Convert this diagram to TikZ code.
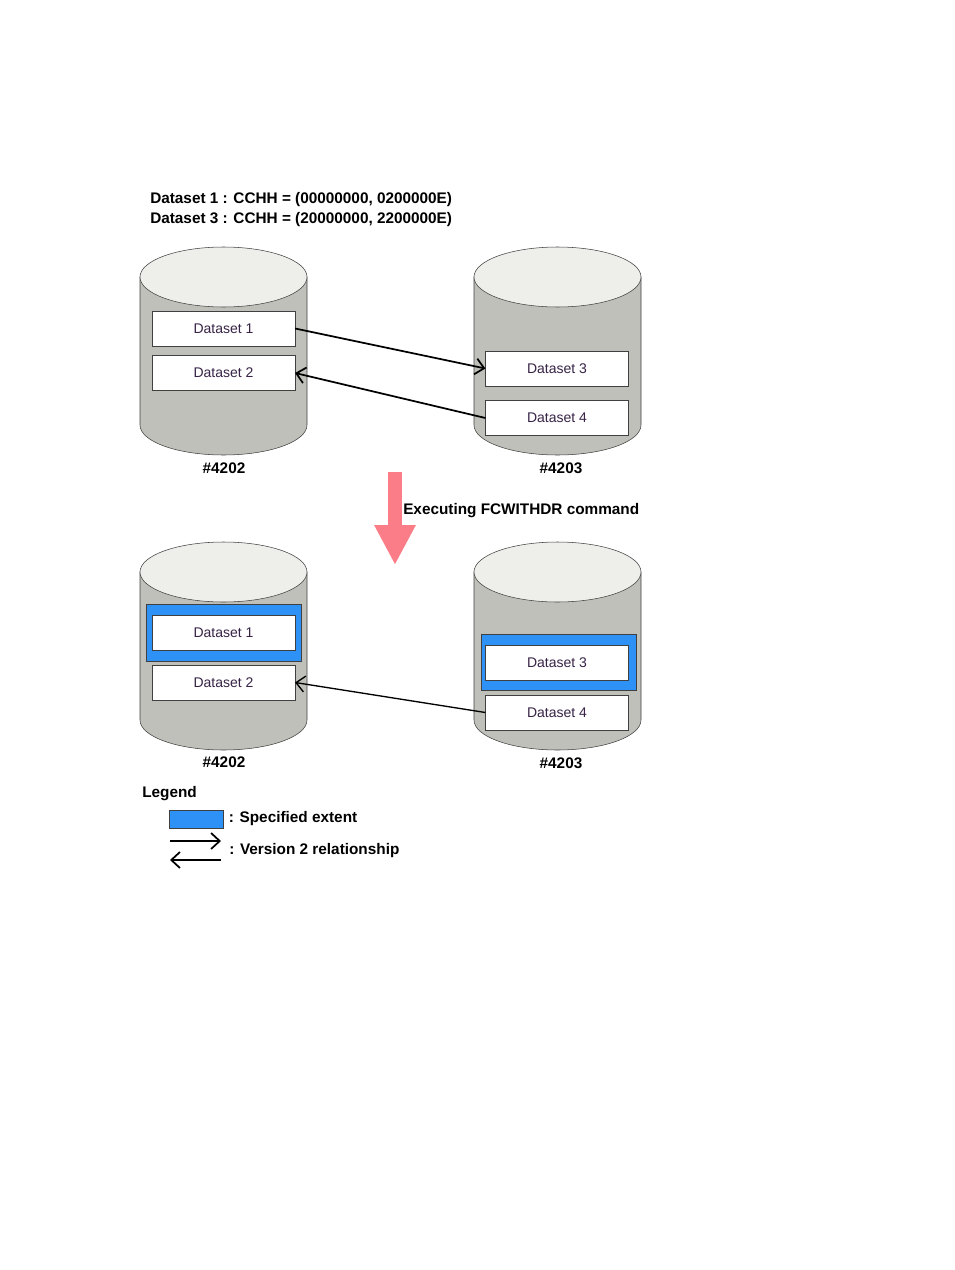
\documentclass[tikz,border=0pt]{standalone}
\usepackage{fontspec}
\setmainfont{Liberation Sans}
\usetikzlibrary{arrows.meta, positioning}

\definecolor{diskbody}{RGB}{192,192,186}
\definecolor{disktop}{RGB}{238,238,234}
\definecolor{extentblue}{RGB}{45,145,245}
\definecolor{cmdred}{RGB}{250,125,135}
\definecolor{dstext}{RGB}{55,35,70}

\begin{document}
\begin{tikzpicture}[x=0.75pt, y=-0.75pt,
  every node/.style={font=\fontsize{10.5}{12}\selectfont},
  dataset/.style={rectangle, draw=black!75, fill=white, text=dstext,
    minimum width=107pt, minimum height=26pt, inner sep=0pt},
  extent/.style={rectangle, draw=black!75, fill=extentblue, inner sep=0pt},
  disklabel/.style={font=\fontsize{11.5}{13}\selectfont\bfseries},
  note/.style={font=\fontsize{11.5}{13}\selectfont\bfseries, anchor=west, inner sep=0pt},
  v2arrow/.style={-{Straight Barb[length=6.5pt, width=12pt]}, line width=1.3pt}]

\useasboundingbox (0,0) rectangle (954,1270);

% disks
\foreach \cx/\ty in {223.5/277, 557.5/277, 223.5/572, 557.5/572} {
  \draw[fill=diskbody, draw=black!75] ({\cx-83.5},\ty) -- ({\cx-83.5},{\ty+148})
    arc[start angle=180, end angle=0, x radius=83.5, y radius=30]
    -- ({\cx+83.5},\ty) -- cycle;
  \draw[fill=disktop, draw=black!75] (\cx,\ty) ellipse[x radius=83.5, y radius=30];
}

% header
\node[note] (cchh1) at (150,200) {Dataset 1 : CCHH = (00000000, 0200000E)};
\node[note] (cchh3) at (150,220) {Dataset 3 : CCHH = (20000000, 2200000E)};

% before
\node[dataset] (a1) at (223.5,328.5) {Dataset 1};
\node[dataset] (a2) at (223.5,373) {Dataset 2};
\node[dataset] (a3) at (557,368.5) {Dataset 3};
\node[dataset] (a4) at (557,418) {Dataset 4};
\node[disklabel] (ldisk1) at (224,468) {\#4202};
\node[disklabel] (rdisk1) at (561,468) {\#4203};

\draw[v2arrow] (a1.east) -- (a3.west);
\draw[v2arrow] (a4.west) -- (a2.east);

% command
\coordinate (cmdtop) at (395,472);
\coordinate (cmdtip) at (395,565);
\draw[cmdred, line width=10.5pt, -{Triangle[length=30pt, width=29pt]}] (cmdtop) -- (cmdtip);
\node[note] (cmd) at (403,511) {Executing FCWITHDR command};

% after
\node[extent, minimum width=116pt, minimum height=42.5pt] (ext1) at (223.5,632.5) {};
\node[extent, minimum width=116pt, minimum height=42pt] (ext3) at (558.5,662) {};
\node[dataset] (b1) at (223.5,633) {Dataset 1};
\node[dataset] (b2) at (223.5,682.5) {Dataset 2};
\node[dataset] (b3) at (557,662.5) {Dataset 3};
\node[dataset] (b4) at (557,712.5) {Dataset 4};
\node[disklabel] (ldisk2) at (224,762) {\#4202};
\node[disklabel] (rdisk2) at (561,763) {\#4203};

\draw[v2arrow, line width=1pt] (b4.west) -- (b2.east);

% legend
\node[note] (legend) at (142,794) {Legend};
\node[extent, minimum width=40.5pt, minimum height=13.5pt] (keyext) at (196,819) {};
\node[note, right=4pt of keyext] (keyexttext) {: Specified extent};
\coordinate (keya) at (170,841);
\coordinate (keyb) at (221,841);
\coordinate (keyc) at (221,860);
\coordinate (keyd) at (170,860);
\draw[v2arrow] (keya) -- (keyb);
\draw[v2arrow] (keyc) -- (keyd);
\node[note] (keyreltext) at (229,851) {: Version 2 relationship};

\end{tikzpicture}
\end{document}
